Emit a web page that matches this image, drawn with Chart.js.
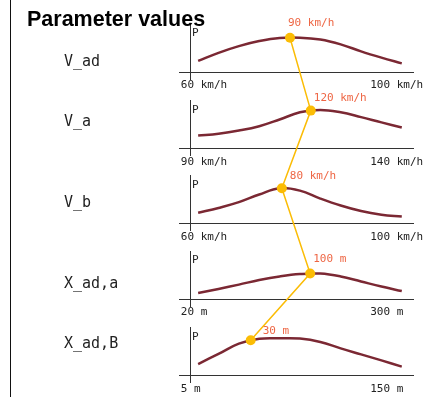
<!DOCTYPE html>
<html>
<head>
<meta charset="utf-8">
<script src="https://cdn.jsdelivr.net/npm/chart.js@4.4.0/dist/chart.umd.min.js"></script>
<style>
  html, body { margin: 0; padding: 0; background: #fff; }
  #wrap { position: relative; width: 426px; height: 397px; overflow: hidden; }
  #frame { position: absolute; left: 9.5px; top: 0; width: 1.5px; height: 397px; background: #111; }
  #chart { position: absolute; left: 0; top: 0; }
</style>
</head>
<body>
<div id="wrap">
  <div id="frame"></div>
  <canvas id="chart" width="426" height="397"></canvas>
</div>
<script>
// Parameters, top to bottom
const rowLabels = ["V_ad", "V_a", "V_b", "X_ad,a", "X_ad,B"];
const rangeLabels = [
  ["60 km/h", "100 km/h"],
  ["90 km/h", "140 km/h"],
  ["60 km/h", "100 km/h"],
  ["20 m", "300 m"],
  ["5 m", "150 m"],
];

// Chosen value of each parameter (yellow dot)
const peakLabels = ["90 km/h", "120 km/h", "80 km/h", "100 m", "30 m"];
const peakX = [4.51, 5.53, 4.11, 5.5, 2.58];
const peakP = [0.715, 0.785, 0.73, 0.53, 0.73];

// Probability curves P, 11 evenly spaced samples along each range
const curveVad = [0.23, 0.4, 0.54, 0.645, 0.71, 0.715, 0.675, 0.575, 0.43, 0.3, 0.18];
const curveVa = [0.265, 0.305, 0.37, 0.46, 0.6, 0.75, 0.8, 0.75, 0.65, 0.54, 0.435];
const curveVb = [0.22, 0.32, 0.44, 0.6, 0.73, 0.68, 0.515, 0.37, 0.255, 0.18, 0.14];
const curveXada = [0.125, 0.21, 0.3, 0.395, 0.47, 0.52, 0.53, 0.47, 0.365, 0.26, 0.165];
const curveXadB = [0.235, 0.445, 0.66, 0.76, 0.77, 0.765, 0.695, 0.56, 0.435, 0.31, 0.18];
const curves = [curveVad, curveVa, curveVb, curveXada, curveXadB];

// Layout (not data)
const rowLabelLevel = [0.215, 0.54, 0.417, 0.31, 0.65];
const peakLabelOffset = [[-2, -15], [3, -12], [8, -12], [3, -14], [12, -9]];
const gapWeights = [21.3, 20, 20.7, 21.3];

const MONO = "'DejaVu Sans Mono', monospace";
const CURVE_COLOR = "#7b2833";
const DOT_COLOR = "#fbbc05";
const LABEL_COLOR = "#ee6644";
const AXIS_COLOR = "#333";

// Scales: one stacked y axis per row, spacer axes between rows,
// and one x axis per row placed on that row's zero line
const scales = {};
let w = 20;
rowLabels.forEach((name, i) => {
  const yId = "y" + i;
  scales[yId] = {
    type: "linear",
    position: "left",
    stack: "rows",
    stackWeight: 55,
    weight: w--,
    min: -7 / 48,
    max: 1,
    afterBuildTicks: (s) => { s.ticks = [{ value: 0 }, { value: 0.8 }]; },
    afterFit: (s) => { s.width = 11; },
    border: { display: true, color: AXIS_COLOR, width: 1 },
    grid: {
      drawTicks: true,
      tickLength: 11,
      color: (ctx) => (ctx.tick && ctx.tick.value === 0 ? AXIS_COLOR : "rgba(0,0,0,0)"),
    },
    ticks: {
      mirror: true,
      padding: 2,
      color: "#222",
      font: { family: MONO, size: 11 },
      callback: (v) => (v === 0 ? "" : "P"),
    },
  };
  if (i < gapWeights.length) {
    scales["g" + i] = {
      type: "linear",
      position: "left",
      stack: "rows",
      stackWeight: gapWeights[i],
      weight: w--,
      afterFit: (s) => { s.width = 0; },
      border: { display: false },
      grid: { display: false, drawTicks: false },
      ticks: { display: false },
    };
  }
  scales["x" + i] = {
    type: "linear",
    position: { [yId]: 0 },
    min: -0.4,
    max: 10.6,
    afterBuildTicks: (s) => { s.ticks = [{ value: -0.85 }, { value: 8.45 }]; },
    afterFit: (s) => { s.paddingLeft = 0; s.paddingRight = 0; },
    border: { display: false },
    grid: { display: false, drawTicks: false },
    ticks: {
      align: "start",
      padding: 7,
      autoSkip: false,
      maxRotation: 0,
      color: "#222",
      font: { family: MONO, size: 11 },
      callback: (v, idx) => rangeLabels[i][idx],
    },
  };
});

// Datasets: dots first so they are drawn on top
const datasets = [];
rowLabels.forEach((name, i) => {
  datasets.push({
    label: name + " value",
    data: [{ x: peakX[i], y: peakP[i] }],
    xAxisID: "x" + i,
    yAxisID: "y" + i,
    showLine: false,
    pointRadius: 5,
    pointBorderWidth: 0,
    pointBackgroundColor: DOT_COLOR,
    clip: false,
  });
});
rowLabels.forEach((name, i) => {
  datasets.push({
    label: name,
    data: curves[i].map((v, k) => ({ x: k, y: v })),
    xAxisID: "x" + i,
    yAxisID: "y" + i,
    borderColor: CURVE_COLOR,
    borderWidth: 2.5,
    pointRadius: 0,
    tension: 0.4,
    fill: false,
    clip: false,
  });
});

// Yellow path through the chosen values, title, row names and value labels
const decorations = {
  id: "decorations",
  beforeDatasetsDraw(chart) {
    const ctx = chart.ctx;
    ctx.save();
    ctx.strokeStyle = DOT_COLOR;
    ctx.lineWidth = 1.5;
    ctx.beginPath();
    rowLabels.forEach((n, i) => {
      const p = chart.getDatasetMeta(i).data[0];
      if (i === 0) ctx.moveTo(p.x, p.y);
      else ctx.lineTo(p.x, p.y);
    });
    ctx.stroke();
    ctx.restore();
  },
  afterDatasetsDraw(chart) {
    const ctx = chart.ctx;
    ctx.save();
    ctx.font = "11px " + MONO;
    ctx.fillStyle = LABEL_COLOR;
    ctx.textAlign = "left";
    ctx.textBaseline = "middle";
    peakLabels.forEach((t, i) => {
      const p = chart.getDatasetMeta(i).data[0];
      ctx.fillText(t, p.x + peakLabelOffset[i][0], p.y + peakLabelOffset[i][1]);
    });
    ctx.restore();
  },
  afterDraw(chart) {
    const ctx = chart.ctx;
    ctx.save();
    ctx.fillStyle = "#222";
    ctx.font = "15px " + MONO;
    ctx.textAlign = "left";
    ctx.textBaseline = "middle";
    rowLabels.forEach((t, i) => {
      const y = chart.scales["y" + i].getPixelForValue(rowLabelLevel[i]);
      ctx.fillText(t, 64, y);
    });
    ctx.fillStyle = "#000";
    ctx.font = "bold 21.5px 'Liberation Sans', Arial, sans-serif";
    ctx.textBaseline = "alphabetic";
    ctx.fillText("Parameter values", 27, 26);
    ctx.restore();
  },
};

new Chart(document.getElementById("chart"), {
  type: "line",
  data: { datasets },
  options: {
    responsive: false,
    animation: false,
    devicePixelRatio: 1,
    events: [],
    layout: { padding: { left: 179, right: 12, top: 24, bottom: 14.7 } },
    plugins: { legend: { display: false }, tooltip: { enabled: false }, title: { display: false } },
    scales,
  },
  plugins: [decorations],
});
</script>
</body>
</html>
